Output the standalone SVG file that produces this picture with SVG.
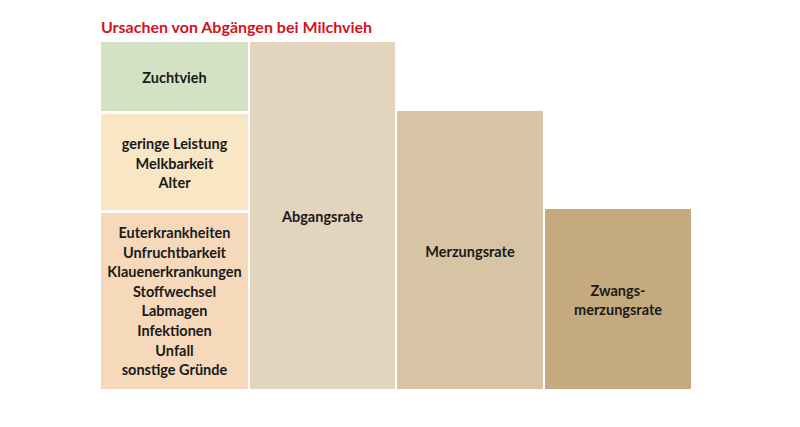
<svg xmlns="http://www.w3.org/2000/svg" width="800" height="427" viewBox="0 0 800 427">
<style>
.t{font-family:Lato,"Open Sans","Liberation Sans",sans-serif;font-weight:700;font-size:14.5px;fill:#1a1a1a;text-anchor:middle}
.title{font-family:Lato,"Open Sans","Liberation Sans",sans-serif;font-weight:700;font-size:16px;fill:#d2141e}
</style>
<rect width="800" height="427" fill="#ffffff"/>
<text class="title" x="101" y="33">Ursachen von Abgängen bei Milchvieh</text>
<g id="zuchtvieh">
<rect x="101" y="42" width="147" height="69" fill="#d3e2c5"/>
<text class="t" x="174.5" y="82.5">Zuchtvieh</text>
</g>
<g id="leistung">
<rect x="101" y="114" width="147" height="96" fill="#f9e6c4"/>
<text class="t" x="174.5" y="149">geringe Leistung</text>
<text class="t" x="174.5" y="168.5">Melkbarkeit</text>
<text class="t" x="174.5" y="188">Alter</text>
</g>
<g id="krankheiten">
<rect x="101" y="213" width="147" height="176" fill="#f6d8ba"/>
<text class="t" x="174.5" y="238">Euterkrankheiten</text>
<text class="t" x="174.5" y="257.6">Unfruchtbarkeit</text>
<text class="t" x="174.5" y="277.2">Klauenerkrankungen</text>
<text class="t" x="174.5" y="296.8">Stoffwechsel</text>
<text class="t" x="174.5" y="316.4">Labmagen</text>
<text class="t" x="174.5" y="336">Infektionen</text>
<text class="t" x="174.5" y="355.6">Unfall</text>
<text class="t" x="174.5" y="375.2">sonstige Gründe</text>
</g>
<g id="abgangsrate">
<rect x="250" y="42" width="145" height="347" fill="#e2d4bd"/>
<text class="t" x="322.5" y="221.5">Abgangsrate</text>
</g>
<g id="merzungsrate">
<rect x="397" y="111" width="146" height="278" fill="#d6c4a5"/>
<text class="t" x="470" y="256.5">Merzungsrate</text>
</g>
<g id="zwangsmerzungsrate">
<rect x="545" y="209" width="146" height="180" fill="#c5aa7f"/>
<text class="t" x="618" y="296">Zwangs-</text>
<text class="t" x="618" y="315">merzungsrate</text>
</g>
<g id="connectors"/>
</svg>
